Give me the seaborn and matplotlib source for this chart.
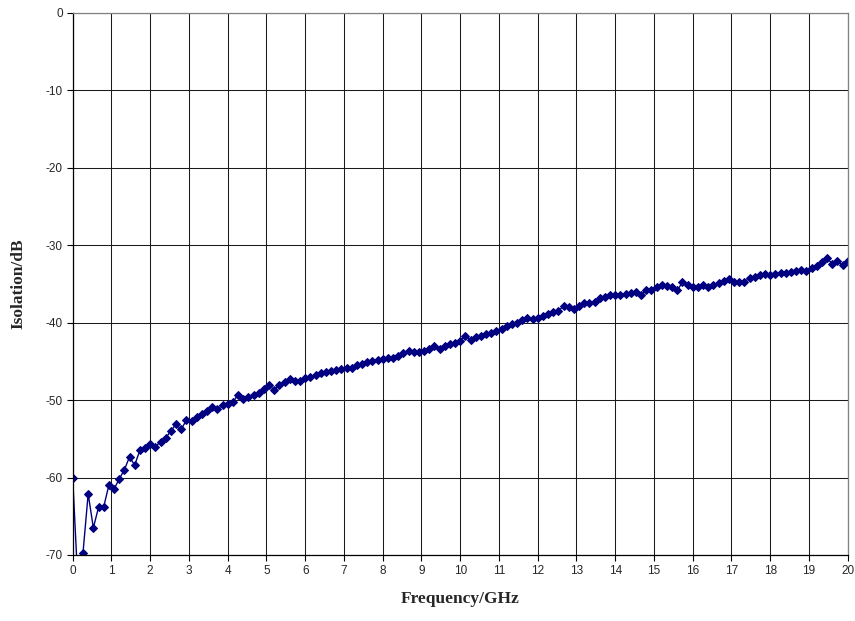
import matplotlib
matplotlib.use("Agg")
import matplotlib.pyplot as plt
import numpy as np
import pandas as pd
import seaborn as sns

FIG_SIZE = (8.55, 6.21)
LINE_COLOR = "#000080"

# sweep 0..20 GHz, 151 points
FREQ_START_GHZ = 0.0
FREQ_STOP_GHZ = 20.0
N_POINTS = 151

isolation_db = [
    -60.0, -73.5, -69.7, -62.1, -66.5, -63.85, -63.8, -61.0, -61.5, -60.2,
    -59.0, -57.35, -58.4, -56.5, -56.2, -55.7, -56.0, -55.4, -54.9, -54.0,
    -53.1, -53.8, -52.6, -52.7, -52.2, -51.85, -51.4, -50.9, -51.1, -50.7,
    -50.5, -50.3, -49.3, -49.9, -49.6, -49.35, -49.15, -48.6, -48.0, -48.75,
    -48.0, -47.7, -47.25, -47.55, -47.55, -47.1, -47.0, -46.8, -46.55, -46.4,
    -46.25, -46.15, -46.0, -45.85, -45.8, -45.45, -45.3, -45.15, -45.0, -44.85,
    -44.65, -44.6, -44.6, -44.25, -43.9, -43.7, -43.75, -43.8, -43.65, -43.35,
    -43.0, -43.4, -43.0, -42.8, -42.6, -42.4, -41.7, -42.25, -41.8, -41.7,
    -41.5, -41.3, -41.1, -40.8, -40.5, -40.2, -40.1, -39.7, -39.45, -39.55,
    -39.35, -39.1, -38.85, -38.6, -38.5, -37.85, -38.05, -38.3, -37.8, -37.5,
    -37.5, -37.3, -36.8, -36.65, -36.5, -36.4, -36.5, -36.3, -36.2, -36.0,
    -36.4, -35.85, -35.8, -35.35, -35.1, -35.3, -35.35, -35.85, -34.8, -35.2,
    -35.35, -35.35, -35.2, -35.35, -35.2, -34.9, -34.6, -34.35, -34.75, -34.8,
    -34.7, -34.3, -34.1, -33.8, -33.7, -33.8, -33.7, -33.6, -33.6, -33.45,
    -33.3, -33.15, -33.35, -32.9, -32.7, -32.15, -31.7, -32.4, -32.05, -32.6,
    -32.1,
]

x_ticks = list(range(0, 21))
y_ticks = [0, -10, -20, -30, -40, -50, -60, -70]

freq_ghz = np.linspace(FREQ_START_GHZ, FREQ_STOP_GHZ, N_POINTS)
data = pd.DataFrame({"Frequency/GHz": freq_ghz, "Isolation/dB": isolation_db})

sns.set_style("white")
plt.rcParams["font.family"] = ["Liberation Sans", "DejaVu Sans"]
plt.rcParams["axes.unicode_minus"] = False

fig = plt.figure(figsize=FIG_SIZE, dpi=100)
ax = fig.add_axes([0.085, 0.1063, 0.9065, 0.8732])

sns.lineplot(
    data=data,
    x="Frequency/GHz",
    y="Isolation/dB",
    ax=ax,
    color=LINE_COLOR,
    linewidth=1.0,
    marker="D",
    markersize=4.0,
    markeredgecolor=LINE_COLOR,
    markerfacecolor=LINE_COLOR,
    estimator=None,
    sort=False,
)

ax.set_xlim(0, 20)
ax.set_ylim(-70, 0)
ax.set_xticks(x_ticks)
ax.set_yticks(y_ticks)
ax.grid(True, color="#1a1a1a", linewidth=0.75)
ax.set_axisbelow(True)

for side in ["left", "bottom"]:
    ax.spines[side].set_color("black")
    ax.spines[side].set_linewidth(0.9)
for side in ["top", "right"]:
    ax.spines[side].set_color("#808080")
    ax.spines[side].set_linewidth(0.9)

ax.tick_params(axis="both", direction="out", length=4, width=0.8,
               color="black", labelsize=8.5, pad=3)
ax.tick_params(axis="x", bottom=True)
ax.tick_params(axis="y", left=True)

serif = ["Liberation Serif", "DejaVu Serif"]
ax.set_xlabel("Frequency/GHz", fontsize=12.5, fontweight="bold", family=serif, labelpad=10)
ax.set_ylabel("Isolation/dB", fontsize=12.5, fontweight="bold", family=serif, labelpad=14)

plt.savefig("out.png", dpi=100)
